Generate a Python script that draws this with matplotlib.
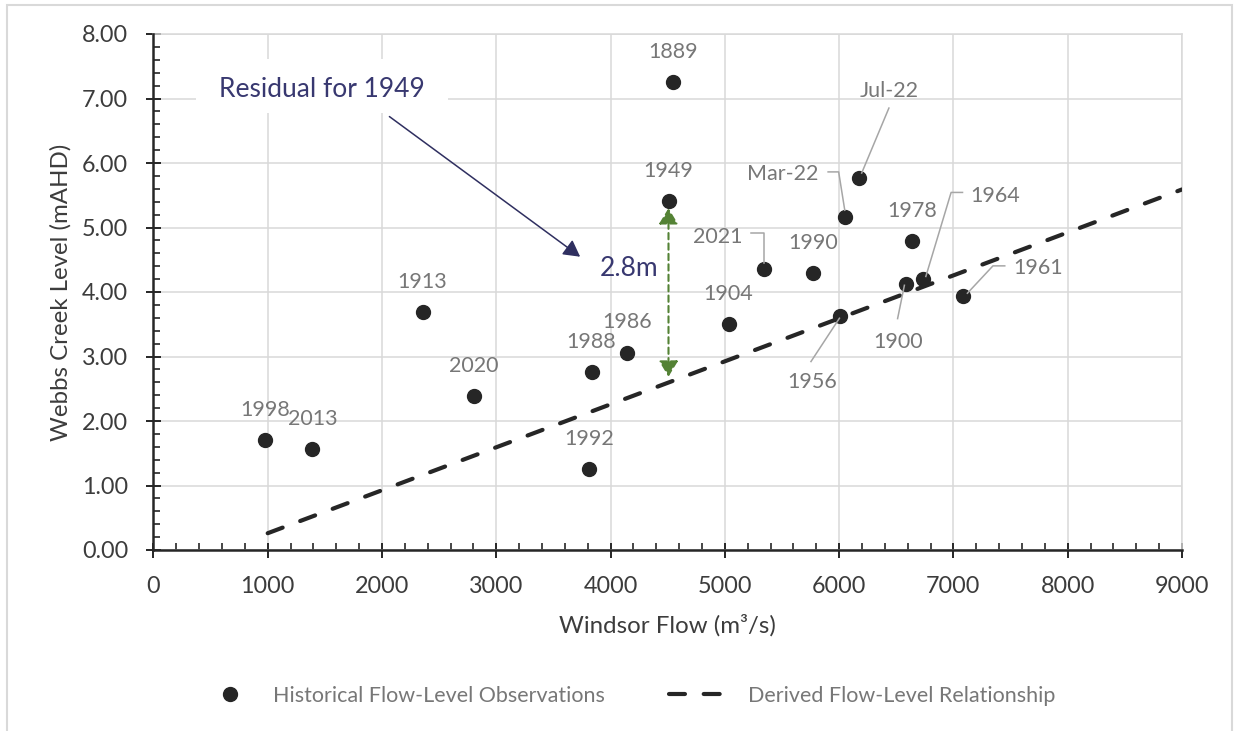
import matplotlib
matplotlib.use("Agg")
import matplotlib.pyplot as plt
from matplotlib.patches import Rectangle, FancyArrowPatch
from matplotlib.lines import Line2D
from matplotlib.ticker import MultipleLocator, FormatStrFormatter
from matplotlib.transforms import Affine2D, ScaledTranslation

plt.rcParams['font.family'] = ['Lato', 'DejaVu Sans']

# Flood events: Windsor flow (m3/s) against peak Webbs Creek level (mAHD)
events = ['1889', '1949', 'Jul-22', 'Mar-22', '1978', '2021', '1990', '1964',
          '1900', '1961', '1904', '1956', '1986', '1988', '2020', '1913',
          '1998', '2013', '1992']
flow = [4549, 4507, 6173, 6053, 6635, 5345, 5775, 6738,
        6582, 7087, 5033, 6010, 4145, 3834, 2802, 2355,
        976, 1391, 3812]
level = [7.25, 5.41, 5.76, 5.16, 4.79, 4.35, 4.29, 4.20,
         4.13, 3.94, 3.50, 3.63, 3.06, 2.76, 2.39, 3.69,
         1.70, 1.56, 1.25]

# Derived flow-level relationship (straight line)
rel_flow = [1000, 9000]
rel_level = [0.26, 5.59]

highlight_event = '1949'

x_max, x_step = 9000, 1000
y_max, y_step = 8, 1

# Colours
DOT = '#262626'
AXIS = '#262626'
TICK_TXT = '#3C3C3C'
LABEL_TXT = '#777777'
GRID = '#D9D9D9'
LEADER = '#A6A6A6'
NAVY = '#383870'
GREEN = '#548235'

W, H = 1237, 731
fig = plt.figure(figsize=(W / 100, H / 100), dpi=100)
ax = fig.add_axes([153.4 / W, 1 - 550 / H, (1182 - 153.4) / W, (550 - 34) / H])

ax.set_xlim(0, x_max)
ax.set_ylim(0, y_max)
ax.xaxis.set_major_locator(MultipleLocator(x_step))
ax.xaxis.set_minor_locator(MultipleLocator(x_step / 5))
ax.yaxis.set_major_locator(MultipleLocator(y_step))
ax.yaxis.set_minor_locator(MultipleLocator(y_step / 5))
ax.yaxis.set_major_formatter(FormatStrFormatter('%.2f'))

ax.grid(which='major', color=GRID, lw=1.1)
ax.set_axisbelow(True)
for s in ('top', 'right'):
    ax.spines[s].set_color(GRID)
    ax.spines[s].set_linewidth(1.1)
for s in ('left', 'bottom'):
    ax.spines[s].set_color(AXIS)
    ax.spines[s].set_linewidth(1.8)
    ax.spines[s].set_zorder(6)

ax.tick_params(which='major', direction='inout', length=10.8, width=1.4,
               color=AXIS, labelsize=16.8, labelcolor=TICK_TXT)
ax.tick_params(which='minor', direction='in', length=5, width=1.2, color=AXIS)
ax.tick_params(axis='y', which='major', pad=12.7)
ax.tick_params(axis='x', which='major', pad=13.0)

ax.set_xlabel('Windsor Flow (m³/s)', fontsize=17.3, color=TICK_TXT)
ax.set_ylabel('Webbs Creek Level (mAHD)', fontsize=17.3, color=TICK_TXT)
ax.xaxis.set_label_coords(0.5, -0.124)
ax.yaxis.set_label_coords(-0.080, 0.5)

# Relationship line and observations
ax.plot(rel_flow, rel_level, color=DOT, lw=3, linestyle=(0, (3.83, 4.5)),
        dash_capstyle='round', zorder=3)
ax.plot(flow, level, ls='none', marker='o', ms=10, color=DOT, zorder=4)


def pt_transform(x, y):
    """Coordinates in points, relative to data point (x, y)."""
    return Affine2D().scale(fig.dpi / 72.0) + ScaledTranslation(x, y, ax.transData)


# Label placement: (dx, dy, ha, leader path) in points from the marker
label_style = {
    'Jul-22': (21.5, 58.5, 'center', [(21.6, 50.7), (2.0, 3.9)]),
    'Mar-22': (-19.3, 27.1, 'right', [(-12.3, 32.6), (-4.7, 32.6), (-0.3, 5.0)]),
    '2021': (-15.5, 18.9, 'right', [(-9.6, 26.4), (0, 26.4), (0, 4.3)]),
    '1964': (33.6, 55.4, 'left', [(28.1, 62.4), (19.9, 62.4), (1.7, 1.9)]),
    '1900': (-5.4, -46.2, 'center', [(-5.8, -25.2), (-0.9, -1.2)]),
    '1961': (35.6, 15.8, 'left', [(29.8, 21.6), (21.3, 21.6), (2.9, 1.9)]),
    '1956': (-20.5, -52.0, 'center', [(-21.1, -32.9), (-0.6, -1.7)]),
}
default_style = (0, 17.5, 'center', None)

for name, x, y in zip(events, flow, level):
    dx, dy, ha, path = label_style.get(name, default_style)
    ax.annotate(name, xy=(x, y), xytext=(dx, dy), textcoords='offset points',
                ha=ha, va='baseline', fontsize=15.5, color=LABEL_TXT, zorder=5)
    if path:
        px, py = zip(*path)
        ax.add_line(Line2D(px, py, color=LEADER, lw=1.1,
                           transform=pt_transform(x, y), zorder=5))

# Residual for the highlighted event
i_hl = events.index(highlight_event)
hx, hy = flow[i_hl], level[i_hl]
slope = (rel_level[1] - rel_level[0]) / (rel_flow[1] - rel_flow[0])
line_at_hx = rel_level[0] + slope * (hx - rel_flow[0])
residual = hy - line_at_hx

ax.add_patch(FancyArrowPatch((hx, line_at_hx + 0.09), (hx, hy - 0.11),
                             arrowstyle='<|-|>,head_length=0.48,head_width=0.29',
                             mutation_scale=20, color=GREEN, lw=1.5,
                             linestyle=(0, (3, 2)), shrinkA=0, shrinkB=0,
                             zorder=5))
ax.text(4158, 4.245, f'{residual:.1f}m', fontsize=19, color=NAVY,
        ha='center', va='baseline', zorder=5)

# Callout box and pointer
ax.add_patch(Rectangle((377, 6.78), 2200, 0.83, facecolor='white',
                       edgecolor='none', zorder=2.5))
ax.text(1470, 7.02, f'Residual for {highlight_event}', fontsize=19,
        color=NAVY, ha='center', va='baseline', zorder=5)
ax.add_patch(FancyArrowPatch((2065, 6.72), (3734, 4.547),
                             arrowstyle='-|>,head_length=0.5,head_width=0.275',
                             mutation_scale=20, color='#2F2F60', lw=1.1,
                             shrinkA=0, shrinkB=0, zorder=5))

# Legend
leg_fs = 15.5
fs_px = leg_fs * 100 / 72
h_obs = Line2D([], [], ls='none', marker='o', ms=10, color=DOT)
h_rel = Line2D([], [], color=DOT, lw=3, linestyle=(0, (3.83, 4.5)),
               dash_capstyle='round')
leg_y = 1 - 696 / H
fig.legend([h_obs], ['Historical Flow-Level Observations'], loc='center left',
           bbox_to_anchor=(202.5 / W, leg_y), frameon=False, borderpad=0,
           borderaxespad=0, handlelength=55 / fs_px, handletextpad=15.5 / fs_px,
           fontsize=leg_fs, labelcolor=LABEL_TXT)
fig.legend([h_rel], ['Derived Flow-Level Relationship'], loc='center left',
           bbox_to_anchor=(669 / W, leg_y), frameon=False, borderpad=0,
           borderaxespad=0, handlelength=55 / fs_px, handletextpad=24 / fs_px,
           fontsize=leg_fs, labelcolor=LABEL_TXT)

# Chart frame
fig.add_artist(Rectangle((7 / W, -0.02), (1232 - 7) / W, 1.02 - 5 / H,
                         transform=fig.transFigure, facecolor='none',
                         edgecolor=GRID, lw=1.5))

fig.savefig('out.png', dpi=100)
